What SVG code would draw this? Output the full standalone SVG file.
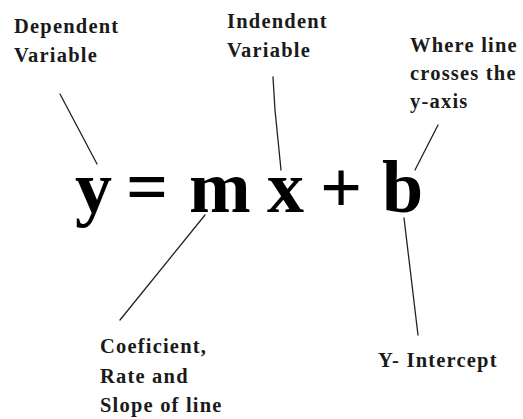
<svg xmlns="http://www.w3.org/2000/svg" width="523" height="419" viewBox="0 0 523 419">
<style>
.lbl{font-family:"Liberation Serif","Times New Roman",serif;font-weight:bold;font-size:20.5px;letter-spacing:1.2px;fill:#1a1a1a}
.eq{font-family:"Liberation Serif","Times New Roman",serif;font-weight:bold;font-size:74px;fill:#000}
.con{fill:none;stroke:#222;stroke-width:1.3;stroke-linecap:round}
</style>
<rect width="523" height="419" fill="#fff"/>
<g id="connectors">
<path class="con" d="M60,94 L97,164"/>
<path class="con" d="M273,77 L275,110 L281,170"/>
<path class="con" d="M438,125 L415,170"/>
<path class="con" d="M205,215 L120,320"/>
<path class="con" d="M404,218 L418,335"/>
</g>
<g id="equation">
<text class="eq" y="212"><tspan x="75">y</tspan><tspan x="126">=</tspan><tspan x="189">m</tspan><tspan x="267">x</tspan><tspan x="320">+</tspan><tspan x="382">b</tspan></text>
</g>
<g id="dependent">
<text class="lbl" x="14" y="33">Dependent</text>
<text class="lbl" x="14" y="62">Variable</text>
</g>
<g id="independent">
<text class="lbl" x="227" y="28">Indendent</text>
<text class="lbl" x="227" y="57">Variable</text>
</g>
<g id="crosses">
<text class="lbl" x="410" y="52">Where line</text>
<text class="lbl" x="410" y="80">crosses the</text>
<text class="lbl" x="410" y="108">y-axis</text>
</g>
<g id="coefficient">
<text class="lbl" x="100" y="353">Coeficient,</text>
<text class="lbl" x="100" y="383">Rate and</text>
<text class="lbl" x="100" y="412">Slope of line</text>
</g>
<g id="intercept">
<text class="lbl" x="378" y="367">Y- Intercept</text>
</g>
</svg>
